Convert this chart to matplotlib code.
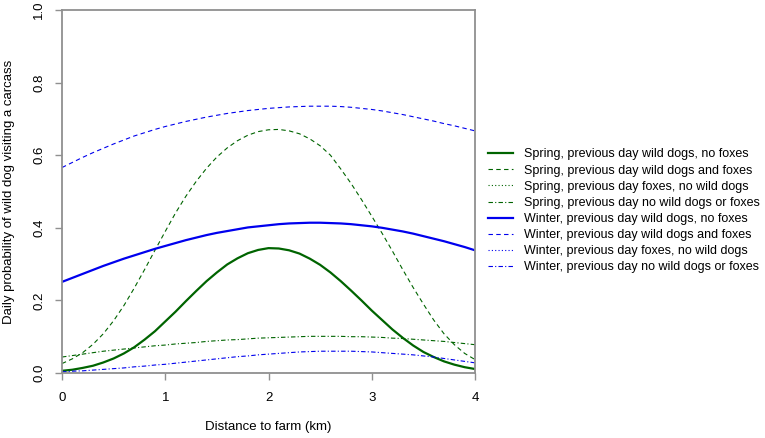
import matplotlib
matplotlib.use("Agg")
import matplotlib.pyplot as plt

plt.rcParams['font.family'] = ['Liberation Sans', 'DejaVu Sans']

distance = [round(0.1 * i, 1) for i in range(41)]

spring_dogs_nofox = [0.006, 0.009, 0.014, 0.020, 0.029, 0.040, 0.054, 0.071, 0.092, 0.115,
                     0.142, 0.169, 0.198, 0.226, 0.253, 0.277, 0.299, 0.316, 0.330, 0.339,
                     0.344, 0.343, 0.338, 0.329, 0.315, 0.298, 0.277, 0.253, 0.227, 0.200,
                     0.172, 0.146, 0.120, 0.097, 0.076, 0.058, 0.044, 0.032, 0.023, 0.016,
                     0.011]
spring_dogs_fox = [0.026, 0.039, 0.056, 0.079, 0.108, 0.144, 0.186, 0.234, 0.285, 0.338,
                   0.390, 0.441, 0.487, 0.528, 0.564, 0.595, 0.620, 0.640, 0.655, 0.665,
                   0.670, 0.671, 0.667, 0.659, 0.645, 0.626, 0.600, 0.562, 0.522, 0.478,
                   0.432, 0.385, 0.336, 0.285, 0.236, 0.190, 0.146, 0.108, 0.078, 0.054,
                   0.037]
spring_fox_nodogs = [0.0] * 41
spring_none = [0.044, 0.048, 0.052, 0.056, 0.060, 0.063, 0.066, 0.069, 0.072, 0.075,
               0.077, 0.080, 0.082, 0.084, 0.087, 0.089, 0.091, 0.092, 0.094, 0.096,
               0.097, 0.098, 0.099, 0.100, 0.101, 0.101, 0.101, 0.101, 0.100, 0.100,
               0.099, 0.098, 0.096, 0.095, 0.093, 0.091, 0.089, 0.087, 0.084, 0.081,
               0.078]
winter_dogs_nofox = [0.251, 0.262, 0.273, 0.284, 0.295, 0.305, 0.315, 0.324, 0.333, 0.342,
                     0.350, 0.358, 0.366, 0.373, 0.380, 0.386, 0.391, 0.396, 0.401, 0.404,
                     0.407, 0.410, 0.412, 0.413, 0.414, 0.414, 0.413, 0.412, 0.410, 0.407,
                     0.404, 0.400, 0.395, 0.390, 0.384, 0.377, 0.370, 0.363, 0.355, 0.347,
                     0.338]
winter_dogs_fox = [0.566, 0.580, 0.594, 0.607, 0.619, 0.631, 0.642, 0.653, 0.662, 0.671,
                   0.679, 0.686, 0.693, 0.699, 0.705, 0.710, 0.715, 0.719, 0.723, 0.726,
                   0.729, 0.731, 0.733, 0.734, 0.735, 0.735, 0.735, 0.734, 0.732, 0.729,
                   0.726, 0.722, 0.717, 0.712, 0.706, 0.700, 0.694, 0.687, 0.681, 0.674,
                   0.667]
winter_fox_nodogs = [0.0] * 41
winter_none = [0.003, 0.005, 0.006, 0.008, 0.010, 0.012, 0.014, 0.017, 0.019, 0.022,
               0.024, 0.027, 0.030, 0.033, 0.036, 0.039, 0.042, 0.045, 0.047, 0.050,
               0.052, 0.054, 0.056, 0.058, 0.059, 0.060, 0.060, 0.060, 0.060, 0.059,
               0.058, 0.056, 0.054, 0.052, 0.050, 0.047, 0.044, 0.040, 0.036, 0.032,
               0.028]

labels = [
    "Spring, previous day wild dogs, no foxes",
    "Spring, previous day wild dogs and foxes",
    "Spring, previous day foxes, no wild dogs",
    "Spring, previous day no wild dogs or foxes",
    "Winter, previous day wild dogs, no foxes",
    "Winter, previous day wild dogs and foxes",
    "Winter, previous day foxes, no wild dogs",
    "Winter, previous day no wild dogs or foxes",
]

green = '#006400'
blue = '#0000EE'
series = [
    (spring_dogs_nofox, green, '-', 1.6),
    (spring_dogs_fox, green, (0, (4, 3)), 0.8),
    (spring_fox_nodogs, green, (0, (1, 2)), 0.8),
    (spring_none, green, (0, (4, 2, 1, 2)), 0.8),
    (winter_dogs_nofox, blue, '-', 1.6),
    (winter_dogs_fox, blue, (0, (4, 3)), 0.8),
    (winter_fox_nodogs, blue, (0, (1, 2)), 0.8),
    (winter_none, blue, (0, (4, 2, 1, 2)), 0.8),
]

fig = plt.figure(figsize=(7.65, 4.38), dpi=100)
ax = fig.add_axes([62/765, 1 - 373/438, 413/765, 363/438])

handles = []
for (vals, col, ls, lw), lab in zip(series, labels):
    h, = ax.plot(distance, vals, color=col, linestyle=ls, linewidth=lw, label=lab)
    handles.append(h)

ax.set_xlim(0, 4)
ax.set_ylim(0, 1)
ax.set_xticks([0, 1, 2, 3, 4])
ax.set_xticklabels(['0', '1', '2', '3', '4'])
ax.set_yticks([0, 0.2, 0.4, 0.6, 0.8, 1.0])
ax.set_yticklabels(['0.0', '0.2', '0.4', '0.6', '0.8', '1.0'], rotation=90, va='center')
for s in ax.spines.values():
    s.set_color('#909090')
    s.set_linewidth(1.3)
    s.set_zorder(5)
ax.tick_params(axis='both', colors='#909090', labelcolor='black', labelsize=9.5, length=5, width=1.0, direction='out')
ax.tick_params(axis='x', pad=9)
ax.tick_params(axis='y', pad=7)
ax.set_xlabel('Distance to farm (km)', fontsize=9.5, labelpad=12)
ax.set_ylabel('Daily probability of wild dog visiting a carcass', fontsize=9.5, labelpad=13)

fig.legend(handles=handles, labels=labels, loc='upper left', bbox_to_anchor=(483/765, 1 - 143.5/438),
           frameon=False, fontsize=9, handlelength=2.0, handletextpad=0.85, labelspacing=0.33,
           borderaxespad=0)

fig.savefig('out.png', dpi=100)
